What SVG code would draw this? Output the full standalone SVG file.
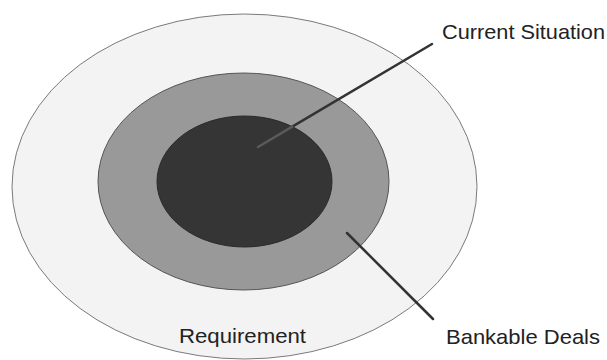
<svg xmlns="http://www.w3.org/2000/svg" width="607" height="360" viewBox="0 0 607 360">
<style>
.lbl{font-family:"Liberation Sans","DejaVu Sans",Arial,sans-serif;font-size:21px;fill:#222}
.conn{stroke:#333;stroke-width:2.5;stroke-linecap:round;fill:none}
.conn-in{stroke:#5a5a5a}
</style>
<rect width="607" height="360" fill="#fff"/>
<g id="requirement">
<ellipse cx="244.5" cy="186.5" rx="232.5" ry="172.5" fill="#f3f3f3" stroke="#7a7a7a" stroke-width="1"/>
<text class="lbl" x="179" y="343" textLength="127" lengthAdjust="spacingAndGlyphs">Requirement</text>
</g>
<g id="bankable-deals">
<ellipse cx="243.5" cy="181.5" rx="145.5" ry="108.5" fill="#999" stroke="#555" stroke-width="1"/>
<text class="lbl" x="446" y="344" textLength="154" lengthAdjust="spacingAndGlyphs">Bankable Deals</text>
</g>
<g id="current-situation">
<ellipse cx="244.5" cy="181.5" rx="87.5" ry="65.5" fill="#353535" stroke="#2a2a2a" stroke-width="1"/>
<text class="lbl" x="442" y="39" textLength="163" lengthAdjust="spacingAndGlyphs">Current Situation</text>
</g>
<g id="connectors">
<line class="conn" x1="292.3" y1="126.7" x2="432" y2="44"/>
<line class="conn conn-in" x1="258" y1="147" x2="292.3" y2="126.7"/>
<line class="conn" x1="347" y1="233" x2="433" y2="319"/>
</g>
</svg>
